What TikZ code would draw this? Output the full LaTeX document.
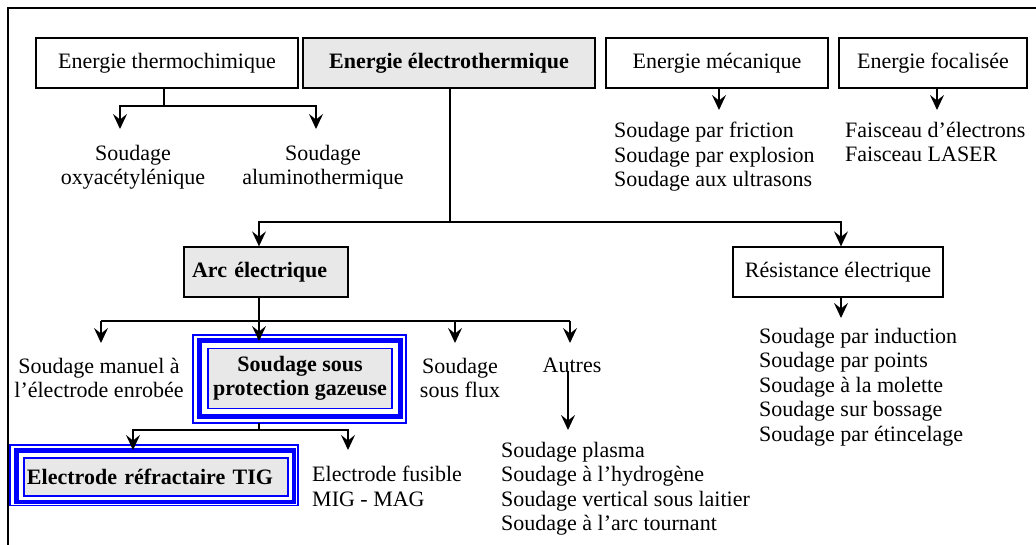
\documentclass[tikz,border=0pt]{standalone}
\usepackage{fontspec}
\setmainfont{Liberation Serif}
\usetikzlibrary{arrows.meta}
\definecolor{boxgray}{HTML}{E8E8E8}
\definecolor{wblue}{HTML}{0000FF}
\begin{document}
\begin{tikzpicture}[x=1pt,y=-1pt,
  every node/.style={font=\fontsize{22}{24.5}\selectfont, inner sep=0pt},
  topbox/.style={draw, line width=2.5pt, minimum height=50pt},
  midbox/.style={draw, line width=1.3pt, minimum height=50pt},
  graybox/.style={fill=boxgray, font=\fontsize{22}{24.5}\selectfont\bfseries},
  bluein/.style={draw=wblue, line width=1.6pt},
  bluethick/.style={draw=wblue, line width=4.6pt},
  blueout/.style={draw=wblue, line width=1.6pt},
  ln/.style={line width=1.4pt},
  arr/.style={ln, -{Stealth[length=15pt,width=14pt,inset=5.5pt]}},
  lst/.style={align=left, anchor=north west},
  ctr/.style={align=center, anchor=north}]
\useasboundingbox (0,0) rectangle (1036,545);
% frame
\draw[line width=2pt] (8,545) -- (8,8) -- (1036,8);

% top row
\node[topbox, minimum width=262pt] (thermo) at (167,63) {Energie thermochimique};
\node[topbox, graybox, minimum width=292pt] (electro) at (449,63) {Energie électrothermique};
\node[topbox, minimum width=222pt] (meca) at (717,63) {Energie mécanique};
\node[topbox, minimum width=188pt] (foc) at (933,63) {Energie focalisée};

% thermo branch
\node[ctr] (oxy) at (133,145) {Soudage\\oxyacétylénique};
\node[ctr] (alu) at (323,145) {Soudage\\aluminothermique};
\coordinate (jT) at (164,106);
\coordinate (tOxy) at (120,129);
\coordinate (tAlu) at (316,129);
\draw[ln] (thermo.south -| jT) -- (jT);
\draw[arr] (jT) -| (tOxy);
\draw[arr] (jT) -| (tAlu);

% mecanique / focalisee
\node[lst] (mecal) at (614,122) {Soudage par friction\\Soudage par explosion\\Soudage aux ultrasons};
\node[lst] (focl) at (845,122) {Faisceau d’électrons\\Faisceau LASER};
\coordinate (tMeca) at (719,110);
\coordinate (tFoc) at (937,110);
\draw[arr] (meca.south -| tMeca) -- (tMeca);
\draw[arr] (foc.south -| tFoc) -- (tFoc);

% second level
\node[midbox, graybox, text width=148pt, align=left, inner xsep=8pt] (arc) at (266,272) {Arc électrique};
\node[midbox, minimum width=210pt] (res) at (838,272) {Résistance électrique};
\coordinate (jE) at (450,222);
\draw[ln] (electro.south -| jE) -- (jE);
\draw[arr] (jE) -| ([xshift=-7pt]arc.north);
\draw[arr] (jE) -| ([xshift=3pt]res.north);

% resistance list
\node[lst] (resl) at (759,328) {Soudage par induction\\Soudage par points\\Soudage à la molette\\Soudage sur bossage\\Soudage par étincelage};
\coordinate (tRes) at (841,318);
\draw[arr] (res.south -| tRes) -- (tRes);

% arc children
\node[ctr] (manuel) at (99,358) {Soudage manuel à\\l’électrode enrobée};
\node[bluein, graybox, align=center, minimum width=184pt, minimum height=60pt] (prot) at (300,378.5) {Soudage sous\\protection gazeuse};
\draw[bluethick] ([shift={(-7.5,-7)}]prot.north west) rectangle ([shift={(7.5,7)}]prot.south east);
\draw[blueout] ([shift={(-14,-12.5)}]prot.north west) rectangle ([shift={(13,13.5)}]prot.south east);
\node[ctr] (flux) at (460,358) {Soudage\\sous flux};
\node[ctr] (autres) at (572,357.5) {Autres};
\coordinate (jA) at (259,321);
\coordinate (tMan) at (101,343);
\coordinate (tProt) at (259,341);
\coordinate (tFlux) at (455,343);
\coordinate (tAut) at (570,343);
\draw[ln] (arc.south -| jA) -- (jA);
\draw[ln] (jA) -- (jA -| tAut);
\draw[ln] (jA) -- (jA -| tMan);
\draw[arr] (jA -| tMan) -- (tMan);
\draw[arr] (jA) -- (tProt);
\draw[arr] (jA -| tFlux) -- (tFlux);
\draw[arr] (jA -| tAut) -- (tAut);

% autres list
\node[lst] (autl) at (501,442) {Soudage plasma\\Soudage à l’hydrogène\\Soudage vertical sous laitier\\Soudage à l’arc tournant};
\coordinate (tAutl) at (568,430);
\draw[arr] ([xshift=-4pt, yshift=2pt]autres.south) -- (tAutl);

% protection children
\node[bluein, graybox, text width=258pt, align=left, inner xsep=3pt, minimum height=38pt] (tig) at (156,477) {Electrode réfractaire TIG};
\draw[bluethick] ([shift={(-6.5,-6.5)}]tig.north west) rectangle ([shift={(5,5)}]tig.south east);
\draw[blueout] ([shift={(-13,-12.5)}]tig.north west) rectangle ([shift={(9,8.5)}]tig.south east);
\node[lst] (fus) at (312,466) {Electrode fusible\\MIG - MAG};
\coordinate (jP) at (259,430);
\coordinate (tTig) at (133,450);
\coordinate (tFus) at (348,450);
\draw[ln] ([shift={(0,13.5)}]prot.south -| jP) -- (jP);
\draw[arr] (jP) -| (tTig);
\draw[arr] (jP) -| (tFus);
\end{tikzpicture}
\end{document}
